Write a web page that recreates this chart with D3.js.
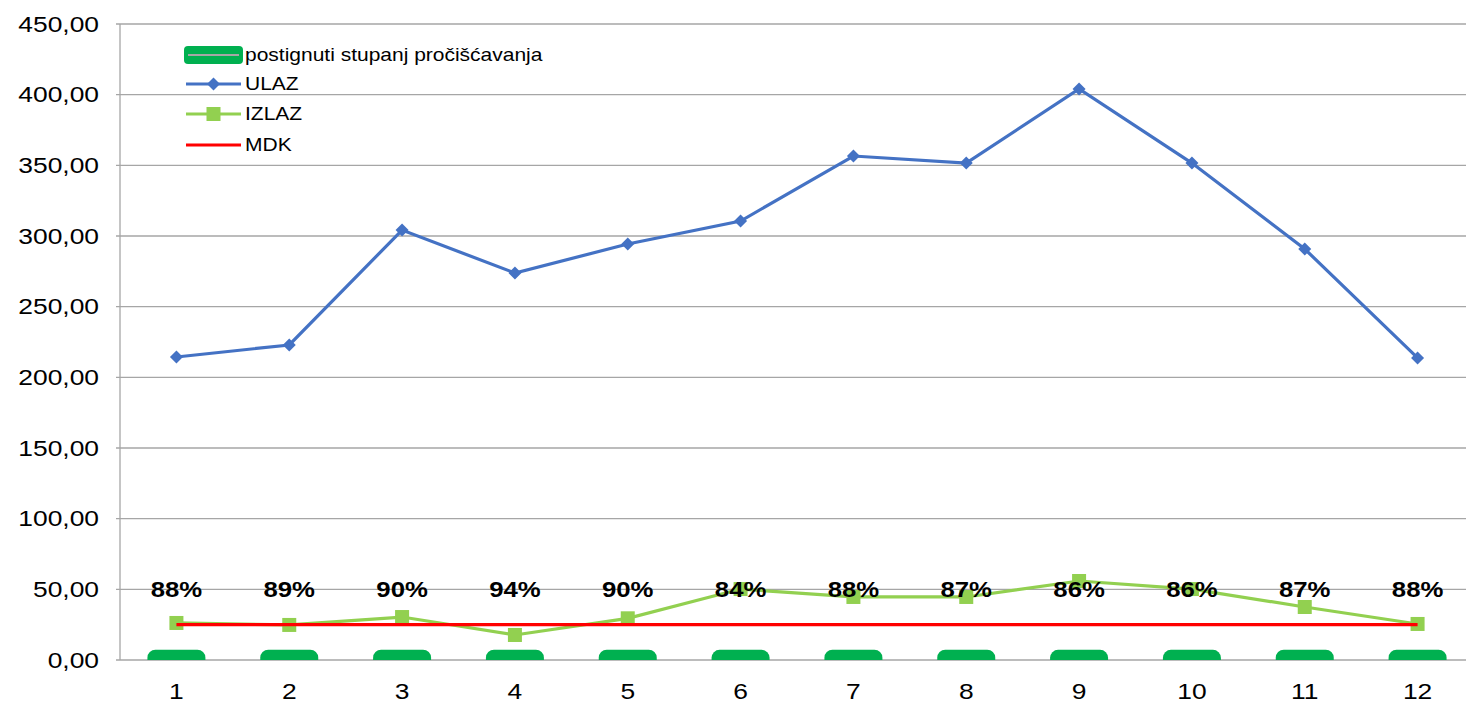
<!DOCTYPE html>
<html>
<head>
<meta charset="utf-8">
<script src="https://cdn.jsdelivr.net/npm/d3@7"></script>
<style>
  body { margin: 0; background: #fff; }
  svg { font-family: "Liberation Sans", Arial, sans-serif; }
</style>
</head>
<body>
<script>
const months = [1, 2, 3, 4, 5, 6, 7, 8, 9, 10, 11, 12];
const ulaz = [214.4, 222.9, 304.2, 273.8, 294.3, 310.6, 356.6, 351.6, 404.0, 351.6, 290.8, 213.7];
const izlaz = [26.2, 24.8, 30.4, 17.7, 29.5, 50.2, 44.6, 44.6, 55.9, 50.2, 37.5, 25.5];
const mdk = [25, 25, 25, 25, 25, 25, 25, 25, 25, 25, 25, 25];
const stupanj = [0.88, 0.89, 0.90, 0.94, 0.90, 0.84, 0.88, 0.87, 0.86, 0.86, 0.87, 0.88];
const yTicks = [0, 50, 100, 150, 200, 250, 300, 350, 400, 450];

const width = 1466, height = 704;
const margin = {top: 24, right: -8, bottom: 44, left: 120};
const sx = 1.2; // text in the original is a bit wide

const svg = d3.select("body").append("svg")
    .attr("width", width)
    .attr("height", height);

const x = d3.scaleBand(months, [margin.left, width - margin.right]);
const y = d3.scaleLinear([0, 450], [height - margin.bottom, margin.top]);
const cx = d => x(d) + x.bandwidth() / 2;
const fmt = v => d3.format(".2f")(v).replace(".", ",");

svg.append("defs").append("clipPath").attr("id", "plot")
  .append("rect")
    .attr("x", margin.left)
    .attr("y", margin.top)
    .attr("width", width - margin.left)
    .attr("height", y(0) - margin.top);

// grid
svg.append("g")
    .attr("stroke", "#a6a6a6")
    .attr("stroke-width", 1.3)
  .selectAll("line")
  .data(yTicks)
  .join("line")
    .attr("x1", margin.left - 4)
    .attr("x2", width)
    .attr("y1", d => y(d))
    .attr("y2", d => y(d));

svg.append("line")
    .attr("x1", margin.left).attr("x2", margin.left)
    .attr("y1", y(450)).attr("y2", y(0))
    .attr("stroke", "#a6a6a6")
    .attr("stroke-width", 1.3);

// y labels
svg.append("g")
  .selectAll("text")
  .data(yTicks)
  .join("text")
    .attr("transform", d => `translate(99,${y(d)}) scale(${sx},1)`)
    .attr("dy", "0.35em")
    .attr("text-anchor", "end")
    .attr("font-size", 22)
    .attr("fill", "#000")
    .text(fmt);

// x labels
svg.append("g")
  .selectAll("text")
  .data(months)
  .join("text")
    .attr("transform", d => `translate(${cx(d)},691) scale(${sx},1)`)
    .attr("dy", "0.35em")
    .attr("text-anchor", "middle")
    .attr("font-size", 22)
    .attr("fill", "#000")
    .text(d => d);

// postignuti stupanj (near zero, clipped)
svg.append("g")
    .attr("clip-path", "url(#plot)")
  .selectAll("rect")
  .data(months)
  .join("rect")
    .attr("x", d => cx(d) - 29)
    .attr("y", (d, i) => y(stupanj[i]) - 9)
    .attr("width", 58)
    .attr("height", 18)
    .attr("rx", 8)
    .attr("fill", "#00b050");

// IZLAZ
const line = d3.line().x((d, i) => cx(months[i])).y(d => y(d));
svg.append("path")
    .attr("d", line(izlaz))
    .attr("fill", "none")
    .attr("stroke", "#92d050")
    .attr("stroke-width", 3.2);
svg.append("g")
  .selectAll("rect")
  .data(izlaz)
  .join("rect")
    .attr("x", (d, i) => cx(months[i]) - 7)
    .attr("y", d => y(d) - 7)
    .attr("width", 14)
    .attr("height", 14)
    .attr("fill", "#92d050");

// MDK
svg.append("path")
    .attr("d", line(mdk))
    .attr("fill", "none")
    .attr("stroke", "#ff0000")
    .attr("stroke-width", 3.2);

// ULAZ
svg.append("path")
    .attr("d", line(ulaz))
    .attr("fill", "none")
    .attr("stroke", "#4472c4")
    .attr("stroke-width", 3.2);
const diamond = "M0,-6.5L6.5,0L0,6.5L-6.5,0Z";
svg.append("g")
  .selectAll("path")
  .data(ulaz)
  .join("path")
    .attr("transform", (d, i) => `translate(${cx(months[i])},${y(d)})`)
    .attr("d", diamond)
    .attr("fill", "#4472c4");

// percentage labels
svg.append("g")
  .selectAll("text")
  .data(stupanj)
  .join("text")
    .attr("transform", (d, i) => `translate(${cx(months[i])},589) scale(1.12,1)`)
    .attr("dy", "0.35em")
    .attr("text-anchor", "middle")
    .attr("font-size", 23)
    .attr("font-weight", "bold")
    .attr("fill", "#000")
    .text(d => d3.format(".0%")(d));

// legend
const legend = svg.append("g").attr("transform", "translate(184,0)");
const rows = [55, 84, 114, 145];
const labels = ["postignuti stupanj pročišćavanja", "ULAZ", "IZLAZ", "MDK"];

legend.append("rect")
    .attr("x", 0).attr("y", rows[0] - 9)
    .attr("width", 59).attr("height", 18).attr("rx", 4)
    .attr("fill", "#00b050");
legend.append("line")
    .attr("x1", 4).attr("x2", 55).attr("y1", rows[0]).attr("y2", rows[0])
    .attr("stroke", "#a6a6a6").attr("stroke-width", 2);

legend.append("line")
    .attr("x1", 2).attr("x2", 57).attr("y1", rows[1]).attr("y2", rows[1])
    .attr("stroke", "#4472c4").attr("stroke-width", 3.2);
legend.append("path")
    .attr("transform", `translate(29.5,${rows[1]})`)
    .attr("d", diamond)
    .attr("fill", "#4472c4");

legend.append("line")
    .attr("x1", 2).attr("x2", 57).attr("y1", rows[2]).attr("y2", rows[2])
    .attr("stroke", "#92d050").attr("stroke-width", 3.2);
legend.append("rect")
    .attr("x", 22.5).attr("y", rows[2] - 7).attr("width", 14).attr("height", 14)
    .attr("fill", "#92d050");

legend.append("line")
    .attr("x1", 2).attr("x2", 57).attr("y1", rows[3]).attr("y2", rows[3])
    .attr("stroke", "#ff0000").attr("stroke-width", 3.2);

legend.selectAll("text")
  .data(labels)
  .join("text")
    .attr("transform", (d, i) => `translate(61,${rows[i]}) scale(${sx},1)`)
    .attr("dy", "0.35em")
    .attr("font-size", 17.5)
    .attr("fill", "#000")
    .text(d => d);
</script>
</body>
</html>
